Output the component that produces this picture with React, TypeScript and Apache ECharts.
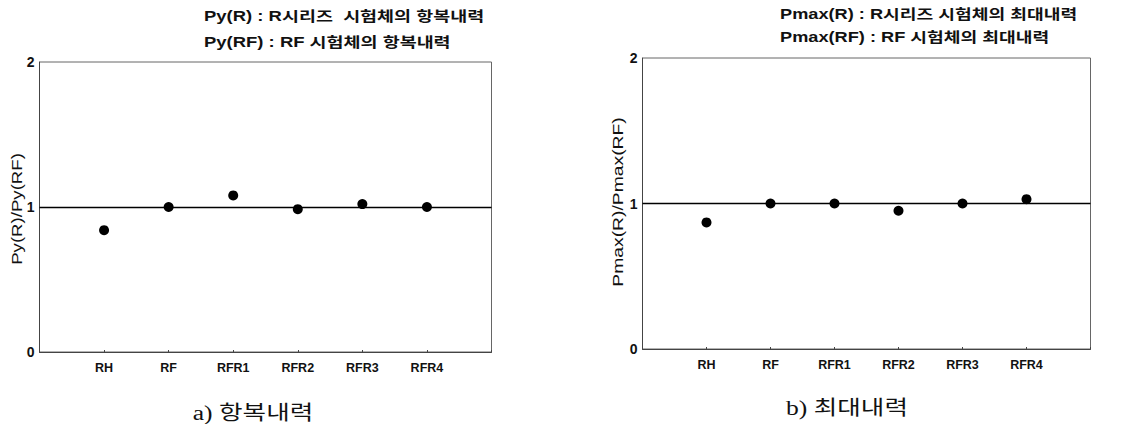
import React, { useEffect, useRef } from "react";
import * as echarts from "echarts";

const categories = ["RH", "RF", "RFR1", "RFR2", "RFR3", "RFR4"];
const yieldRatio = [0.84, 1.0, 1.08, 0.985, 1.02, 1.0];
const maxRatio = [0.87, 1.0, 1.0, 0.95, 1.0, 1.03];
const yTicks = [0, 1, 2];

const SANS = "Liberation Sans, Arial, 'Noto Sans CJK KR', sans-serif";
const KR = "Liberation Sans, 'Noto Sans CJK KR', sans-serif";
const SERIF = "Liberation Serif, 'Noto Sans CJK KR', serif";

function xAxisFor(gridIndex: number) {
  return {
    type: "value",
    gridIndex,
    min: 0,
    max: categories.length + 1,
    interval: 1,
    axisLine: { show: true, lineStyle: { color: "#444", width: 1 } },
    axisTick: { show: true, inside: true, length: 2, lineStyle: { color: "#444" } },
    splitLine: { show: false },
    axisLabel: {
      color: "#111",
      fontSize: 12.5,
      fontWeight: "bold",
      fontFamily: SANS,
      margin: 10,
      formatter: (v: number) => categories[v - 1] ?? "",
    },
  };
}

function yAxisFor(gridIndex: number) {
  return {
    type: "value",
    gridIndex,
    min: yTicks[0],
    max: yTicks[yTicks.length - 1],
    interval: 1,
    axisLine: { show: true, lineStyle: { color: "#444", width: 1 } },
    axisTick: { show: false },
    splitLine: { show: false },
    axisLabel: { color: "#111", fontSize: 14, fontWeight: "bold", fontFamily: SANS, margin: 5 },
  };
}

function seriesFor(idx: number, values: number[]) {
  return {
    type: "scatter",
    xAxisIndex: idx,
    yAxisIndex: idx,
    symbol: "circle",
    symbolSize: 10,
    itemStyle: { color: "#000", opacity: 1 },
    data: values.map((v, i) => [i + 1, v]),
    markLine: {
      silent: true,
      symbol: "none",
      label: { show: false },
      lineStyle: { color: "#000", width: 1.3, type: "solid", opacity: 1 },
      data: [{ yAxis: 1 }],
    },
  };
}

function txt(text: string, x: number, y: number, opts: any = {}) {
  return {
    type: "text",
    x,
    y,
    rotation: opts.rotation ?? 0,
    scaleX: opts.scaleX ?? 1,
    style: {
      text,
      fontSize: opts.fontSize ?? 14,
      fontWeight: opts.fontWeight ?? "normal",
      fontFamily: opts.fontFamily ?? KR,
      fill: "#111",
      textAlign: opts.align ?? "left",
      textVerticalAlign: "middle",
    },
  };
}

export default function App() {
  const ref = useRef<HTMLDivElement>(null);
  useEffect(() => {
    if (!ref.current) return;
    const chart = echarts.init(ref.current, null, { renderer: "svg" });
    chart.setOption({
      animation: false,
      backgroundColor: "#fff",
      grid: [
        { left: 39.5, top: 62, width: 452, height: 290, show: true, borderColor: "#666", borderWidth: 1 },
        { left: 642.5, top: 58, width: 448, height: 291, show: true, borderColor: "#666", borderWidth: 1 },
      ],
      xAxis: [xAxisFor(0), xAxisFor(1)],
      yAxis: [yAxisFor(0), yAxisFor(1)],
      series: [seriesFor(0, yieldRatio), seriesFor(1, maxRatio)],
      graphic: [
        txt("Py(R) : R시리즈  시험체의 항복내력", 204, 16, { fontWeight: "bold", scaleX: 1.32 }),
        txt("Py(RF) : RF 시험체의 항복내력", 204, 42, { fontWeight: "bold", scaleX: 1.32 }),
        txt("Pmax(R) : R시리즈 시험체의 최대내력", 780, 14, { fontWeight: "bold", scaleX: 1.3 }),
        txt("Pmax(RF) : RF 시험체의 최대내력", 780, 37, { fontWeight: "bold", scaleX: 1.3 }),
        txt("Py(R)/Py(RF)", 17, 209, { rotation: Math.PI / 2, align: "center", fontSize: 14, scaleX: 1.33, fontFamily: SANS }),
        txt("Pmax(R)/Pmax(RF)", 618, 202, { rotation: Math.PI / 2, align: "center", fontSize: 14, scaleX: 1.38, fontFamily: SANS }),
        txt("a) 항복내력", 253, 413, { align: "center", fontSize: 20, scaleX: 1.28, fontFamily: SERIF }),
        txt("b) 최대내력", 847, 408, { align: "center", fontSize: 20, scaleX: 1.28, fontFamily: SERIF }),
      ],
    });
    return () => chart.dispose();
  }, []);
  return (
    <div
      ref={ref}
      style={{ position: "fixed", left: 0, top: 0, width: 1142, height: 424, background: "#fff" }}
    />
  );
}
